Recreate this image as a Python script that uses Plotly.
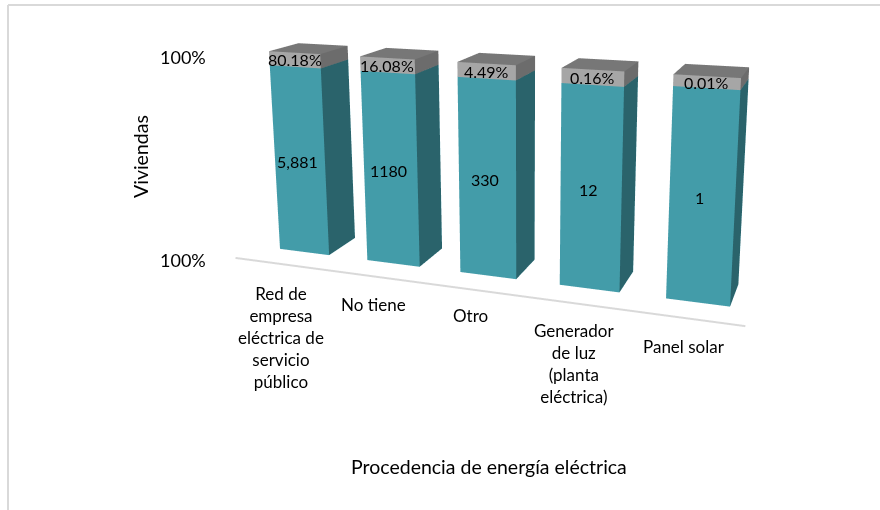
import plotly.graph_objects as go

categories = ["Red de<br>empresa<br>eléctrica de<br>servicio<br>público", "No tiene", "Otro",
              "Generador<br>de luz<br>(planta<br>eléctrica)", "Panel solar"]
viviendas = [5881, 1180, 330, 12, 1]
viviendas_labels = ["5,881", "1180", "330", "12", "1"]
porcentaje = [80.18, 16.08, 4.49, 0.16, 0.01]
tick_labels = ["100%", "100%"]

# 100% stacked column: each column's two parts are shares of count + percentage
share = [v / (v + p) for v, p in zip(viviendas, porcentaje)]

# Scene set-up: value-axis minimum, column width, and the oblique 3-D look of the original
Z_MIN = 0.8028
BAR_W = 0.5704
AXIS_DEPTH = -0.68
AXIS_X = [-0.565, 4.465]
SHEAR_XY, SHEAR_XZ, SHEAR_YZ = 0.1371, -0.2243, 1.8687
ASPECT_Y, ASPECT_Z = 0.1543, 0.3524
EYE = (0.1438, -0.9580, 0.4505)
CENTER = (-0.0350, -0.2324, 0)
UP = (-0.0180, 0.0871, 1)


def oblique(x, y, z):
    zn = (z - Z_MIN) / (1 - Z_MIN)
    return x + SHEAR_XY * y + SHEAR_XZ * zn, y + SHEAR_YZ * zn


TEAL, TEAL_SIDE, GREY, GREY_SIDE, GREY_TOP = "#439ca9", "#2a636b", "#a6a6a6", "#6c6c6c", "#777777"
I = [0, 0, 1, 1, 5, 5, 4, 4, 0, 0, 3, 3]
J = [1, 2, 5, 6, 4, 7, 0, 3, 1, 5, 2, 6]
K = [2, 3, 6, 2, 7, 6, 3, 7, 5, 4, 6, 7]


def box(i, zlo, zhi, front, side, top):
    a, b = i - BAR_W / 2, i + BAR_W / 2
    xs0 = [a, b, b, a, a, b, b, a]
    ys0 = [0, 0, 0, 0, 1, 1, 1, 1]
    zs = [zlo, zlo, zhi, zhi, zlo, zlo, zhi, zhi]
    xy = [oblique(x, y, z) for x, y, z in zip(xs0, ys0, zs)]
    cols = [front, front, side, side, front, front, front, front, front, front, top, top]
    return go.Mesh3d(x=[q[0] for q in xy], y=[q[1] for q in xy], z=zs, i=I, j=J, k=K,
                     facecolor=cols, flatshading=True,
                     lighting=dict(ambient=1, diffuse=0, specular=0, fresnel=0, roughness=1),
                     hoverinfo="skip", showscale=False)


fig = go.Figure()
for n in range(len(categories)):
    fig.add_trace(box(n, Z_MIN, share[n], TEAL, TEAL_SIDE, TEAL))
    fig.add_trace(box(n, share[n], 1.0, GREY, GREY_SIDE, GREY_TOP))

l0 = oblique(AXIS_X[0], AXIS_DEPTH, Z_MIN)
l1 = oblique(AXIS_X[1], AXIS_DEPTH, Z_MIN)
fig.add_trace(go.Scatter3d(x=[l0[0], l1[0]], y=[l0[1], l1[1]], z=[Z_MIN, Z_MIN], mode="lines",
                           line=dict(color="#d9d9d9", width=4), hoverinfo="skip", showlegend=False))

allx = [abs(oblique(i + s * BAR_W / 2, d, zz)[0] - 2) for i in range(5) for s in (-1, 1)
        for d in (0, 1) for zz in (Z_MIN, 1)] + [abs(l0[0] - 2), abs(l1[0] - 2)]
ally = [abs(oblique(0, d, zz)[1]) for d in (0, 1, AXIS_DEPTH) for zz in (Z_MIN, 1)]
Sx = 2 * max(allx) * 1.1
Sy = 2 * max(ally) * 1.1
ZPAD = 0.02
FONT = "Lato"

scene_labels = []
for n in range(len(categories)):
    zm = (Z_MIN + share[n]) / 2
    xq, yq = oblique(n, 0, zm)
    scene_labels.append(dict(x=xq, y=yq, z=zm, text=viviendas_labels[n], showarrow=False, xshift=-2,
                             font=dict(family=FONT, size=16, color="#000")))
    zm = (1 + share[n]) / 2
    xq, yq = oblique(n, 0, zm)
    scene_labels.append(dict(x=xq, y=yq, z=zm, text=f"{porcentaje[n]:.2f}%", showarrow=False,
                             font=dict(family=FONT, size=16, color="#000")))

hidden = dict(visible=False, showgrid=False, zeroline=False, showbackground=False, showspikes=False)


def page_text(px, py, text, size=17, angle=0):
    return dict(x=px / 880, y=1 - py / 510, xref="paper", yref="paper", text=text, showarrow=False,
                font=dict(family=FONT, size=size, color="#000"), textangle=angle,
                xanchor="center", yanchor="middle", align="center")


cat_pos = [(281, 337), (373, 304), (470, 315), (574, 363), (684, 346)]
anns = [page_text(px, py, t) for (px, py), t in zip(cat_pos, categories)]
anns += [page_text(183, 57, tick_labels[0], 18), page_text(183, 260, tick_labels[1], 18),
         page_text(140, 157, "Viviendas", 19.5, -90),
         page_text(489, 466, "Procedencia de energía eléctrica", 19.5)]

fig.update_layout(
    width=880, height=510, margin=dict(l=0, r=0, t=0, b=0), paper_bgcolor="#fff", showlegend=False,
    scene=dict(domain=dict(x=[0, 1], y=[0, 1]),
               xaxis=dict(range=[2 - Sx / 2, 2 + Sx / 2], **hidden),
               yaxis=dict(range=[-Sy / 2, Sy / 2], **hidden),
               zaxis=dict(range=[Z_MIN - ZPAD, 1 + ZPAD], **hidden),
               aspectmode="manual",
               aspectratio=dict(x=Sx / 5.4, y=ASPECT_Y * Sy / 2,
                                z=ASPECT_Z * (1 - Z_MIN + 2 * ZPAD) / (1 - Z_MIN)),
               camera=dict(eye=dict(x=EYE[0], y=EYE[1], z=EYE[2]),
                           center=dict(x=CENTER[0], y=CENTER[1], z=CENTER[2]),
                           up=dict(x=UP[0], y=UP[1], z=UP[2])),
               annotations=scene_labels, bgcolor="rgba(0,0,0,0)"),
    annotations=anns,
    shapes=[dict(type="line", xref="paper", yref="paper", x0=8 / 880, x1=8 / 880, y0=0, y1=1 - 5 / 510,
                 line=dict(color="#d9d9d9", width=2)),
            dict(type="line", xref="paper", yref="paper", x0=8 / 880, x1=1, y0=1 - 5 / 510, y1=1 - 5 / 510,
                 line=dict(color="#d9d9d9", width=2))],
)
fig.write_html("out.html", config=dict(displayModeBar=False),
               post_script="document.body.style.margin='0';document.body.style.overflow='hidden';")
